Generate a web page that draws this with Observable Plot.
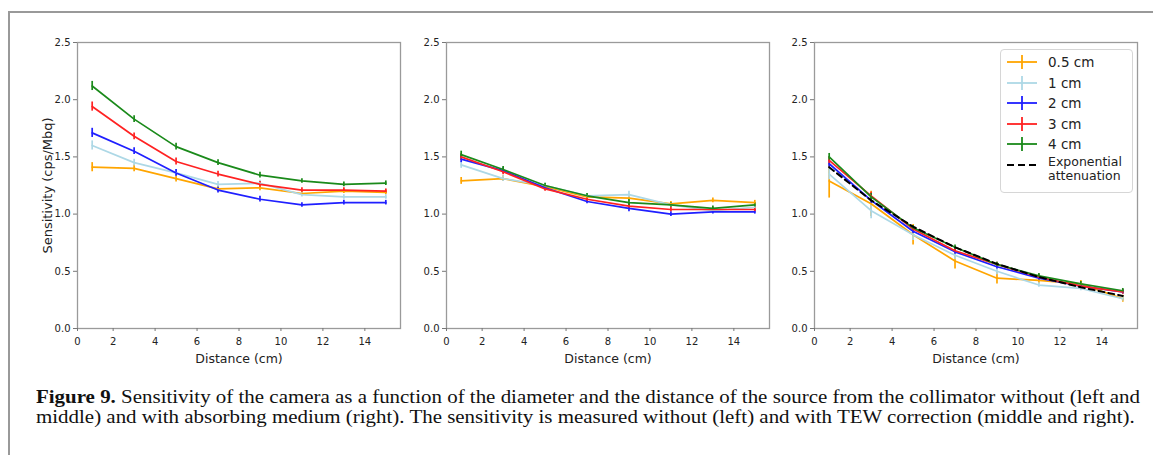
<!DOCTYPE html>
<html>
<head>
<meta charset="utf-8">
<script src="https://cdn.jsdelivr.net/npm/d3@7"></script>
<script src="https://cdn.jsdelivr.net/npm/@observablehq/plot@0.6"></script>
<style>
  html, body { margin: 0; padding: 0; background: #fff; }
  #page { position: relative; width: 1153px; height: 455px; overflow: hidden; background: #fff; }
  #frame { position: absolute; left: 8px; top: 11px; right: -5px; bottom: -5px; border-left: 2px solid #999; border-top: 2px solid #999; }
  .panel { position: absolute; top: 0; }
  #legend { position: absolute; left: 1000px; top: 49px; width: 131px; height: 142px; background: #fff; border: 1px solid #d6d6d6; border-radius: 4px; font-family: "DejaVu Sans", sans-serif; font-size: 13px; color: #222; }
  #legend .row { position: absolute; left: 0; height: 20px; }
  #legend .txt { position: absolute; left: 47px; white-space: nowrap; }
  #caption { position: absolute; left: 36px; top: 387px; font-family: "Liberation Serif", serif; font-size: 18px; line-height: 20px; color: #111; white-space: nowrap; transform-origin: 0 0; }
</style>
</head>
<body>
<div id="page">
  <div id="frame"></div>
  <div id="p1" class="panel" style="left:0px"></div>
  <div id="p2" class="panel" style="left:410px"></div>
  <div id="p3" class="panel" style="left:776px"></div>
  <div id="legend"></div>
  <div id="caption"><b>Figure 9.</b> Sensitivity of the camera as a function of the diameter and the distance of the source from the collimator without (left and<br>middle) and with absorbing medium (right). The sensitivity is measured without (left) and with TEW correction (middle and right).</div>
</div>
<script>
// ---- data ----
const distances = [1, 3, 5, 7, 9, 11, 13, 15];
const seriesNames = ["0.5 cm", "1 cm", "2 cm", "3 cm", "4 cm"];
const seriesColors = ["#ffa500", "#add8e6", "#1f1fff", "#ff2222", "#1a8a1a"];
const xTicks = [0.3, 2, 4, 6, 8, 10, 12, 14];
const yTicks = [0, 0.5, 1.0, 1.5, 2.0, 2.5];

// left panel: without TEW, no absorbing medium
const left_05 = [1.41, 1.40, 1.31, 1.22, 1.23, 1.18, 1.20, 1.19];
const left_1  = [1.60, 1.45, 1.36, 1.26, 1.27, 1.17, 1.15, 1.15];
const left_2  = [1.71, 1.55, 1.36, 1.21, 1.13, 1.08, 1.10, 1.10];
const left_3  = [1.94, 1.68, 1.46, 1.35, 1.26, 1.21, 1.21, 1.20];
const left_4  = [2.12, 1.83, 1.59, 1.45, 1.34, 1.29, 1.26, 1.27];
const leftErr = [0.04, 0.03, 0.03, 0.025, 0.025, 0.02, 0.02, 0.02];

// middle panel: with TEW, no absorbing medium
const mid_05 = [1.29, 1.31, 1.24, 1.15, 1.14, 1.09, 1.12, 1.10];
const mid_1  = [1.43, 1.31, 1.25, 1.16, 1.17, 1.08, 1.03, 1.06];
const mid_2  = [1.48, 1.38, 1.23, 1.11, 1.05, 1.00, 1.02, 1.02];
const mid_3  = [1.50, 1.37, 1.22, 1.13, 1.07, 1.04, 1.04, 1.04];
const mid_4  = [1.52, 1.39, 1.25, 1.16, 1.10, 1.08, 1.05, 1.08];
const midErr = [0.03, 0.025, 0.02, 0.02, 0.03, 0.02, 0.02, 0.02];

// right panel: with TEW and absorbing medium
const right_05 = [1.29, 1.09, 0.82, 0.59, 0.44, 0.42, 0.39, 0.26];
const right_1  = [1.35, 1.03, 0.82, 0.64, 0.50, 0.38, 0.35, 0.26];
const right_2  = [1.44, 1.12, 0.85, 0.67, 0.54, 0.44, 0.37, 0.32];
const right_3  = [1.47, 1.16, 0.87, 0.68, 0.56, 0.45, 0.37, 0.32];
const right_4  = [1.50, 1.15, 0.88, 0.71, 0.56, 0.46, 0.39, 0.33];
const right_05Err = [0.15, 0.11, 0.09, 0.07, 0.05, 0.03, 0.03, 0.03];
const right_1Err  = [0.05, 0.07, 0.05, 0.04, 0.03, 0.02, 0.02, 0.02];
const rightErr    = [0.03, 0.03, 0.02, 0.02, 0.02, 0.02, 0.02, 0.02];
const expAttenuation = [1.41, 1.12, 0.89, 0.71, 0.565, 0.45, 0.36, 0.285];

// ---- helpers ----
function rows(valuesList, errList) {
  const out = [];
  valuesList.forEach((vals, si) => {
    vals.forEach((v, i) => out.push({series: seriesNames[si], x: distances[i], y: v, e: errList[si][i]}));
  });
  return out;
}

function panel({data, expo, marginLeft, marginRight, ylabel}) {
  const marks = [
    Plot.frame({stroke: "#9a9a9a", strokeWidth: 1.3}),
    Plot.axisY({ticks: yTicks, tickFormat: d3.format(".1f"), tickSize: 4, tickPadding: 3, fontSize: 10, label: null, stroke: "#777"}),
    Plot.axisX({ticks: xTicks, tickFormat: d => d < 1 ? "0" : String(d), tickSize: 3, tickPadding: 6, fontSize: 10, label: null, stroke: "#777"}),
    Plot.axisX({ticks: [], label: "Distance (cm)", labelAnchor: "center", labelArrow: "none", labelOffset: 34, fontSize: 12.5})
  ];
  if (ylabel) marks.push(Plot.axisY({ticks: [], label: ylabel, labelAnchor: "center", labelArrow: "none", labelOffset: 35, fontSize: 13}));
  marks.push(
    Plot.ruleX(data, {x: "x", y1: d => d.y - d.e, y2: d => d.y + d.e, stroke: "series", strokeWidth: 1.7}),
    Plot.line(data, {x: "x", y: "y", z: "series", stroke: "series", strokeWidth: 1.7})
  );
  if (expo) marks.push(Plot.line(distances, {x: d => d, y: (d, i) => expo[i], stroke: "#000", strokeWidth: 2, strokeDasharray: "6,4"}));
  return Plot.plot({
    width: marginLeft + 323 + marginRight,
    height: 370,
    marginLeft, marginRight,
    marginTop: 42, marginBottom: 42,
    x: {domain: [0.3, 15.7]},
    y: {domain: [0, 2.5]},
    color: {domain: seriesNames, range: seriesColors},
    style: {fontFamily: "DejaVu Sans, Verdana, sans-serif", fontSize: "10px", color: "#222", background: "transparent", overflow: "visible"},
    marks
  });
}

document.getElementById("p1").append(panel({
  data: rows([left_05, left_1, left_2, left_3, left_4], [leftErr, leftErr, leftErr, leftErr, leftErr]),
  marginLeft: 77, marginRight: 10, ylabel: "Sensitivity (cps/Mbq)"
}));
document.getElementById("p2").append(panel({
  data: rows([mid_05, mid_1, mid_2, mid_3, mid_4], [midErr, midErr, midErr, midErr, midErr]),
  marginLeft: 36, marginRight: 8
}));
document.getElementById("p3").append(panel({
  data: rows([right_05, right_1, right_2, right_3, right_4], [right_05Err, right_1Err, rightErr, rightErr, rightErr]),
  expo: expAttenuation,
  marginLeft: 38, marginRight: 10
}));

// ---- legend ----
const legend = document.getElementById("legend");
const ns = "http://www.w3.org/2000/svg";
const entries = seriesNames.map((n, i) => ({label: n, color: seriesColors[i], dashed: false}))
  .concat([{label: "Exponential<br>attenuation", color: "#000", dashed: true}]);
entries.forEach((en, i) => {
  const top = 3 + i * 20.6;
  const row = document.createElement("div");
  row.className = "row";
  row.style.top = top + "px";
  const svg = document.createElementNS(ns, "svg");
  svg.setAttribute("width", 44); svg.setAttribute("height", 20);
  svg.style.position = "absolute"; svg.style.left = "0px"; svg.style.top = "0px";
  const ln = document.createElementNS(ns, "line");
  ln.setAttribute("x1", 6); ln.setAttribute("x2", 36); ln.setAttribute("y1", 9); ln.setAttribute("y2", 9);
  ln.setAttribute("stroke", en.color); ln.setAttribute("stroke-width", en.dashed ? 2.2 : 1.8);
  if (en.dashed) ln.setAttribute("stroke-dasharray", "7,4");
  svg.append(ln);
  if (!en.dashed) {
    const v = document.createElementNS(ns, "line");
    v.setAttribute("x1", 21); v.setAttribute("x2", 21); v.setAttribute("y1", 2); v.setAttribute("y2", 16);
    v.setAttribute("stroke", en.color); v.setAttribute("stroke-width", 1.8);
    svg.append(v);
  }
  row.append(svg);
  const t = document.createElement("div");
  t.className = "txt";
  t.style.top = en.dashed ? "-1px" : "0px";
  t.style.lineHeight = en.dashed ? "14px" : "18px";
  t.style.fontSize = en.dashed ? "12.5px" : "13.5px";
  t.innerHTML = en.label;
  row.append(t);
  legend.append(row);
});

// fit caption width to reference
const cap = document.getElementById("caption");
const w = cap.getBoundingClientRect().width;
cap.style.transform = `scaleX(${1104 / w})`;
</script>
</body>
</html>
